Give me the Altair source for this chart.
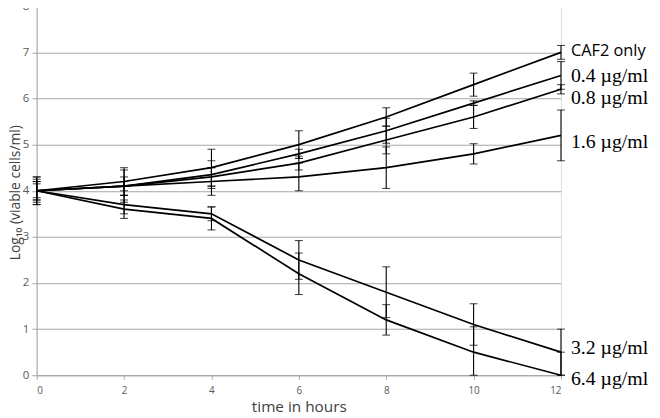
import altair as alt
import pandas as pd

hours = [0, 2, 4, 6, 8, 10, 12]
series = ["CAF2 only", "0.4 µg/ml", "0.8 µg/ml", "1.6 µg/ml", "3.2 µg/ml", "6.4 µg/ml"]
values = [
    [4.0, 4.2, 4.5, 5.0, 5.6, 6.3, 7.0],
    [4.0, 4.1, 4.35, 4.8, 5.3, 5.9, 6.5],
    [4.0, 4.1, 4.3, 4.6, 5.1, 5.6, 6.2],
    [4.0, 4.1, 4.2, 4.3, 4.5, 4.8, 5.2],
    [4.0, 3.7, 3.5, 2.5, 1.8, 1.1, 0.5],
    [4.0, 3.6, 3.4, 2.2, 1.2, 0.5, 0.0],
]
errors = [
    [0.3, 0.3, 0.4, 0.3, 0.2, 0.25, 0.15],
    [0.25, 0.35, 0.3, 0.1, 0.27, 0.05, 0.3],
    [0.2, 0.2, 0.2, 0.15, 0.3, 0.25, 0.1],
    [0.15, 0.1, 0.3, 0.3, 0.45, 0.22, 0.55],
    [0.2, 0.2, 0.15, 0.42, 0.55, 0.45, 0.5],
    [0.3, 0.2, 0.25, 0.45, 0.33, 0.55, 0.5],
]
label_y = [7.03, 6.49, 6.02, 5.05, 0.58, -0.08]
label_font = ["Open Sans", "Liberation Serif", "Liberation Serif", "Liberation Serif", "Liberation Serif", "Liberation Serif"]

rows = []
for s, vals, errs in zip(series, values, errors):
    for t, v, e in zip(hours, vals, errs):
        rows.append({"series": s, "t": t, "v": v, "lo": max(v - e, 0.0), "hi": v + e})
df = pd.DataFrame(rows)
labels = pd.DataFrame({"series": series, "t": [12] * len(series), "ly": label_y, "font": label_font})

xs = alt.Scale(domain=[0, 12], nice=False)
ys = alt.Scale(domain=[0, 8], nice=False)

x_axis = alt.Axis(values=hours, grid=False, domainColor="#a6a6a6", tickColor="#a6a6a6", tickSize=4,
                  labelColor="#595959", labelFont="Open Sans", labelFontSize=10, labelPadding=6,
                  title="time in hours", titleFont="Open Sans", titleFontSize=15.5, titleFontWeight="normal",
                  titleColor="#404040", titleY=32, titleBaseline="middle")
y_axis = alt.Axis(values=list(range(0, 9)), grid=True, gridColor="#a6a6a6", gridWidth=1,
                  domainColor="#a6a6a6", tickColor="#a6a6a6", tickSize=5,
                  labelColor="#595959", labelFont="Open Sans", labelFontSize=11.5, labelPadding=3,
                  title="Log₁₀ (viable cells/ml)", titleFont="Open Sans", titleFontSize=14,
                  titleFontWeight="normal", titleColor="#404040", titleX=-21, titleY=188,
                  titleAngle=-90, titleAlign="center", titleBaseline="middle")

base = alt.Chart(df)
lines = base.mark_line(color="black", strokeWidth=1.7).encode(
    x=alt.X("t:Q", scale=xs, axis=x_axis),
    y=alt.Y("v:Q", scale=ys, axis=y_axis),
    detail="series:N",
)
bars = base.mark_rule(color="black", strokeWidth=1.1).encode(
    x="t:Q", y="lo:Q", y2="hi:Q"
)
cap_lo = base.mark_tick(color="black", thickness=1.1, size=8, orient="horizontal").encode(x="t:Q", y="lo:Q")
cap_hi = base.mark_tick(color="black", thickness=1.1, size=8, orient="horizontal").encode(x="t:Q", y="hi:Q")

lab_sans = alt.Chart(labels[labels["font"] == "Open Sans"]).mark_text(
    align="left", baseline="middle", dx=10, font="Open Sans", fontSize=16.5, color="black"
).encode(x="t:Q", y="ly:Q", text="series:N")
lab_serif = alt.Chart(labels[labels["font"] != "Open Sans"]).mark_text(
    align="left", baseline="middle", dx=10, font="Liberation Serif", fontSize=20, color="black"
).encode(x="t:Q", y="ly:Q", text="series:N")

chart = alt.layer(bars, cap_lo, cap_hi, lines, lab_sans, lab_serif).properties(
    width=530, height=373,
    autosize=alt.AutoSizeParams(type="none"),
    padding={"left": 29, "top": -4, "right": 92, "bottom": 41},
).configure_view(stroke=None).configure(background="white")

chart.save("out.html", embed_options={"renderer": "svg", "actions": False})
